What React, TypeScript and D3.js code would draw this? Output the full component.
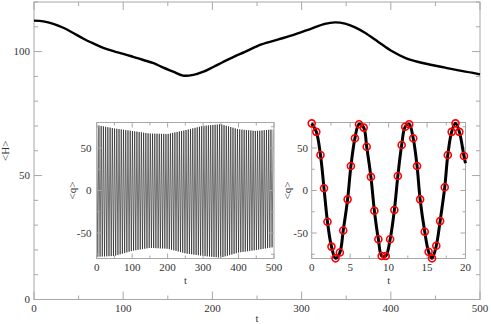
import React from "react";
import * as d3 from "d3";

// Main curve <H>(t)
const hTimes = [0, 10.5, 21.7, 32.9, 44, 55, 66.5, 77.7, 89, 100, 111, 122.6, 134, 145, 156, 167, 178.6, 190, 201, 212, 223.4, 236.5, 255, 274, 292.6, 311, 326, 337.4, 348.7, 360, 371, 386, 401, 416, 431, 446, 461, 476, 490.7, 500];
const hValues = [112.5, 112.2, 111.2, 109.6, 107.5, 105.3, 103.3, 101.5, 100.2, 99.1, 97.9, 96.6, 95.3, 93.5, 91.9, 90.3, 90.6, 91.9, 93.8, 95.8, 97.8, 99.9, 102.9, 104.9, 106.9, 109.3, 111.2, 111.8, 111.3, 109.8, 107.6, 103.9, 100.2, 97.5, 95.8, 94.6, 93.5, 92.4, 91.5, 90.8];

// Inset 1: envelope of the fast oscillation <q>(t), 0..500
const envTimes = [0, 50, 100, 150, 200, 250, 300, 350, 400, 450, 500];
const envUpper = [77, 73, 70, 67, 66.5, 71, 76, 78, 72, 70, 72];
const envLower = [-78, -77, -71, -67.5, -68.5, -74, -77, -79, -73, -70, -66.5];
const halfPeriod = 3.15;

// Inset 2: sampled <q>(t), 0..20
const qTimes = [0, 0.6, 1.14, 1.6, 2.05, 2.57, 3.1, 3.66, 4.1, 4.67, 5.1, 5.62, 6.15, 6.76, 7.15, 7.7, 8.15, 8.67, 9.1, 9.63, 10.2, 10.75, 11.2, 11.7, 12.16, 12.68, 13.2, 13.7, 14.1, 14.7, 15.2, 15.65, 16.2, 16.7, 17.3, 17.7, 18.2, 18.7, 19.2, 19.8];
const qValues = [79, 69, 41.8, 2.6, -36.7, -66, -79.8, -73, -47, -10.4, 28.8, 61.4, 78, 74, 51.5, 16, -23.8, -57.4, -77, -77, -57.4, -23, 17, 53.5, 75, 78, 61.4, 28.8, -10.4, -48.5, -72, -79.8, -65, -36, 3.8, 41.8, 69, 79, 69, 40.6];
const qLineEnd = { t: 20, q: 32 };

// Ticks
const mainXTicks = d3.range(0, 501, 50);
const mainXLabels = [0, 100, 200, 300, 400, 500];
const mainYTicks = d3.range(0, 121, 10);
const mainYLabels = [0, 50, 100];
const in1XTicks = d3.range(0, 501, 50);
const in1XLabels = [0, 100, 200, 300, 400, 500];
const qYTicks = [-75, -50, -25, 0, 25, 50, 75];
const qYLabels = [-50, 0, 50];
const in2XTicks = d3.range(0, 20.01, 2.5);
const in2XLabels = [0, 5, 10, 15, 20];

const FONT = "'Liberation Serif', 'Times New Roman', serif";
const FRAME = "#a8a8a8";
const TEXT = "#333";

type Box = { l: number; r: number; t: number; b: number };

function Frame({ box, x, y, xTicks, yTicks, isMajorX, isMajorY, maj, min }: any) {
  const lines: any[] = [];
  xTicks.forEach((v: number, i: number) => {
    const px = x(v);
    const len = isMajorX(v) ? maj : min;
    lines.push(<line key={"xb" + i} x1={px} x2={px} y1={box.b} y2={box.b - len} />);
    lines.push(<line key={"xt" + i} x1={px} x2={px} y1={box.t} y2={box.t + len} />);
  });
  yTicks.forEach((v: number, i: number) => {
    const py = y(v);
    const len = isMajorY(v) ? maj : min;
    lines.push(<line key={"yl" + i} x1={box.l} x2={box.l + len} y1={py} y2={py} />);
    lines.push(<line key={"yr" + i} x1={box.r} x2={box.r - len} y1={py} y2={py} />);
  });
  return (
    <g stroke={FRAME} strokeWidth={1} fill="none">
      <rect x={box.l} y={box.t} width={box.r - box.l} height={box.b - box.t} />
      {lines}
    </g>
  );
}

export default function App() {
  const W = 491, Hh = 324;
  const main: Box = { l: 34, r: 480, t: 2, b: 299.5 };
  const in1: Box = { l: 96.7, r: 274, t: 122.5, b: 258.5 };
  const in2: Box = { l: 311.7, r: 465.5, t: 122.5, b: 258.5 };

  const mx = d3.scaleLinear().domain([0, 500]).range([main.l, main.r]);
  const my = d3.scaleLinear().domain([0, 120]).range([main.b, main.t]);
  const x1 = d3.scaleLinear().domain([0, 500]).range([in1.l, in1.r]);
  const y1 = d3.scaleLinear().domain([-80, 80]).range([in1.b, in1.t]);
  const x2 = d3.scaleLinear().domain([0, 20]).range([in2.l, in2.r]);
  const y2 = d3.scaleLinear().domain([-80, 80]).range([in2.b, in2.t]);

  const hLine = d3.line<number>().x((_, i) => mx(hTimes[i])).y((d) => my(d)).curve(d3.curveCatmullRom)(hValues) || "";

  const up = d3.scaleLinear().domain(envTimes).range(envUpper);
  const lo = d3.scaleLinear().domain(envTimes).range(envLower);
  const zig: [number, number][] = [];
  for (let k = 0; k * halfPeriod <= 500; k++) {
    const t = k * halfPeriod;
    zig.push([t, k % 2 === 0 ? up(t) : lo(t)]);
  }
  const zigPath = d3.line<[number, number]>().x((d) => x1(d[0])).y((d) => y1(d[1]))(zig) || "";

  const qPts: [number, number][] = qTimes.map((t, i) => [t, qValues[i]]);
  const qLinePath = d3.line<[number, number]>().x((d) => x2(d[0])).y((d) => y2(d[1])).curve(d3.curveCatmullRom)([...qPts, [qLineEnd.t, qLineEnd.q]]) || "";

  return (
    <svg width={W} height={Hh} style={{ position: "absolute", left: 0, top: 0, background: "#fff", fontFamily: FONT }}>
      <rect x={0} y={0} width={W} height={Hh} fill="#fff" />
      {/* main plot */}
      <Frame box={main} x={mx} y={my} xTicks={mainXTicks} yTicks={mainYTicks}
        isMajorX={(v: number) => v % 100 === 0} isMajorY={(v: number) => v % 50 === 0} maj={8} min={4} />
      <path d={hLine} fill="none" stroke="#000" strokeWidth={2.4} strokeLinejoin="round" />
      <g fill={TEXT} fontSize={11}>
        {mainXLabels.map((v) => (
          <text key={"mxl" + v} x={mx(v)} y={312} textAnchor="middle">{v}</text>
        ))}
        {mainYLabels.map((v) => (
          <text key={"myl" + v} x={30} y={my(v)} dy="0.35em" textAnchor="end">{v}</text>
        ))}
        <text x={mx(250)} y={321.5} textAnchor="middle">t</text>
        <text transform={`translate(9,${(main.t + main.b) / 2}) rotate(-90)`} textAnchor="middle">&lt;H&gt;</text>
      </g>

      {/* inset 1 */}
      <rect x={in1.l} y={in1.t} width={in1.r - in1.l} height={in1.b - in1.t} fill="#fff" />
      <g clipPath="url(#clip1)">
        <path d={zigPath} fill="none" stroke="#000" strokeWidth={0.55} />
      </g>
      <defs>
        <clipPath id="clip1">
          <rect x={in1.l} y={in1.t} width={in1.r - in1.l} height={in1.b - in1.t} />
        </clipPath>
      </defs>
      <Frame box={in1} x={x1} y={y1} xTicks={in1XTicks} yTicks={qYTicks}
        isMajorX={(v: number) => v % 100 === 0} isMajorY={(v: number) => v % 50 === 0} maj={5} min={3} />
      <g fill={TEXT} fontSize={11}>
        {in1XLabels.map((v) => (
          <text key={"x1l" + v} x={x1(v)} y={271} textAnchor="middle">{v}</text>
        ))}
        {qYLabels.map((v) => (
          <text key={"y1l" + v} x={91.5} y={y1(v)} dy="0.35em" textAnchor="end">{v}</text>
        ))}
        <text x={x1(250)} y={284} textAnchor="middle" fontSize={10.5}>t</text>
        <text transform={`translate(76,${(in1.t + in1.b) / 2}) rotate(-90)`} textAnchor="middle">&lt;q&gt;</text>
      </g>

      {/* inset 2 */}
      <rect x={in2.l} y={in2.t} width={in2.r - in2.l} height={in2.b - in2.t} fill="#fff" />
      <Frame box={in2} x={x2} y={y2} xTicks={in2XTicks} yTicks={qYTicks}
        isMajorX={(v: number) => v % 5 === 0} isMajorY={(v: number) => v % 50 === 0} maj={5} min={3} />
      <path d={qLinePath} fill="none" stroke="#000" strokeWidth={3} strokeLinejoin="round" />
      <g fill="none" stroke="#ff0000" strokeWidth={1.6}>
        {qPts.map((d, i) => (
          <circle key={"c" + i} cx={x2(d[0])} cy={y2(d[1])} r={3.5} />
        ))}
      </g>
      <g fill={TEXT} fontSize={11}>
        {in2XLabels.map((v) => (
          <text key={"x2l" + v} x={x2(v)} y={271} textAnchor="middle">{v}</text>
        ))}
        {qYLabels.map((v) => (
          <text key={"y2l" + v} x={308} y={y2(v)} dy="0.35em" textAnchor="end">{v}</text>
        ))}
        <text x={x2(10)} y={284} textAnchor="middle" fontSize={10.5}>t</text>
        <text transform={`translate(291,${(in2.t + in2.b) / 2}) rotate(-90)`} textAnchor="middle">&lt;q&gt;</text>
      </g>
    </svg>
  );
}
